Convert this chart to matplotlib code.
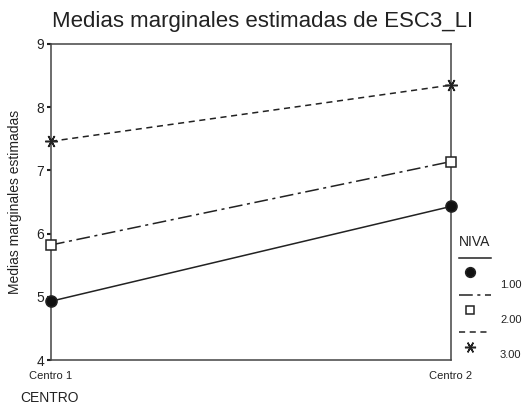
import matplotlib
matplotlib.use("Agg")
import matplotlib.pyplot as plt
from matplotlib.lines import Line2D

plt.rcParams['font.family'] = ['Liberation Sans', 'DejaVu Sans']

centros = ["Centro 1", "Centro 2"]
niveles = ["1.00", "2.00", "3.00"]
niva1 = [4.93, 6.43]
niva2 = [5.82, 7.14]
niva3 = [7.46, 8.35]

series = [niva1, niva2, niva3]
estilos = ["-", (0, (9, 3, 2, 3)), (0, (4, 3))]
marcadores = ["o", "s", (6, 2, 90)]
rellenos = ["#111111", "white", "#111111"]
tamanos = [8, 7, 9]
col = "#222222"

fig = plt.figure(figsize=(5.25, 4.08), dpi=100)
ax = fig.add_axes([51 / 525, 1 - 360 / 408, 400 / 525, 316 / 408])

xs = list(range(len(centros)))
for s, ls, mk, fc, ms in zip(series, estilos, marcadores, rellenos, tamanos):
    ax.plot(xs, s, linestyle=ls, color=col, lw=1.1, marker=mk, markersize=ms,
            markerfacecolor=fc, markeredgecolor=col, markeredgewidth=1.1,
            clip_on=False, zorder=3)

ax.set_xlim(0, 1)
ax.set_ylim(4, 9)
ax.set_xticks(xs)
ax.set_xticklabels(centros, fontsize=8)
ax.set_yticks([4, 5, 6, 7, 8, 9])
ax.tick_params(axis='y', labelsize=10, length=3, width=1.5, pad=2, colors=col)
ax.tick_params(axis='x', length=0, pad=8, colors=col)
for sp in ax.spines.values():
    sp.set_color("#444444")
    sp.set_linewidth(1.1)
ax.set_ylabel("Medias marginales estimadas", fontsize=10, color=col, labelpad=10)

fig.text(0.5, 1 - 22 / 408, "Medias marginales estimadas de ESC3_LI",
         ha="center", va="center", fontsize=16, color=col)
fig.text(20 / 525, 1 - 398 / 408, "CENTRO", ha="left", va="center",
         fontsize=10, color=col)

# leyenda a mano, como en SPSS
fig.text(475 / 525, 1 - 242 / 408, "NIVA", ha="center", va="center",
         fontsize=10, color=col)
ly = [258, 295, 332]
my = [272, 310, 347]
ty = [285, 320, 355]
for i in range(3):
    yl = 1 - ly[i] / 408
    fig.add_artist(Line2D([459 / 525, 491 / 525], [yl, yl], linestyle=estilos[i],
                          color=col, lw=1.1))
    fig.add_artist(Line2D([470 / 525], [1 - my[i] / 408], marker=marcadores[i],
                          markersize=tamanos[i] - 1, markerfacecolor=rellenos[i],
                          markeredgecolor=col, markeredgewidth=1.1, linestyle="none"))
    fig.text(500 / 525, 1 - ty[i] / 408, niveles[i], ha="left", va="center",
             fontsize=8, color=col)

fig.savefig("out.png", dpi=100)
